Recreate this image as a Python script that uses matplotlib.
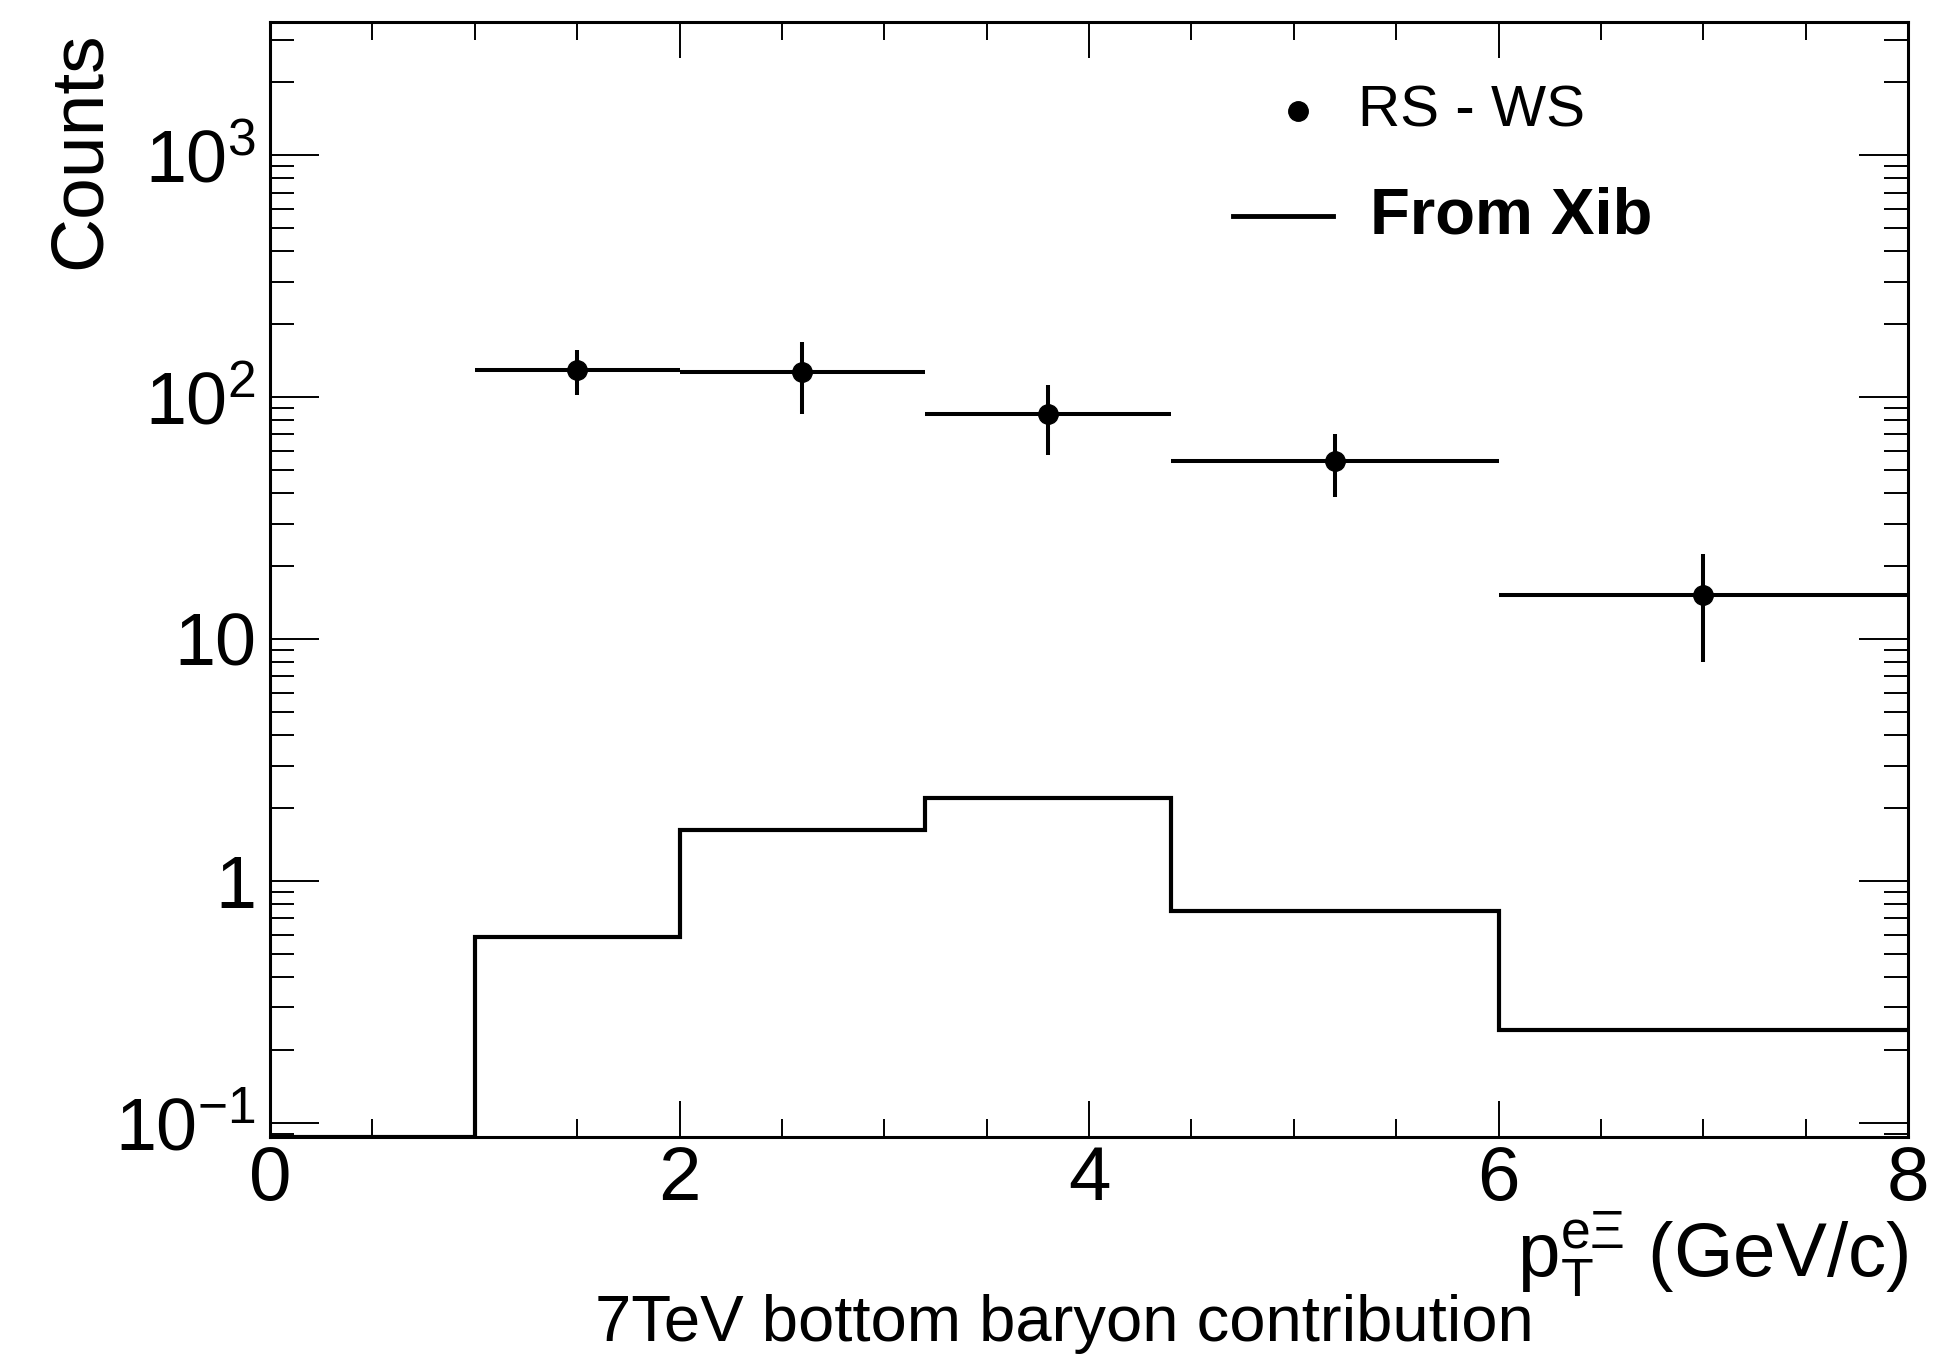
import numpy as np
import matplotlib
matplotlib.use("Agg")
import matplotlib.pyplot as plt
import matplotlib.ticker as mticker

# bin edges in pT (GeV/c)
bin_edges = [0.0, 1.0, 2.0, 3.2, 4.4, 6.0, 8.0]

# RS - WS counts (one per bin, starting from the 2nd bin)
rsws_counts = [129.0, 127.0, 85.0, 54.5, 15.2]
rsws_errors = [27.0, 42.0, 27.5, 15.8, 7.2]

# From Xib histogram contents
xib_counts = [0.0, 0.585, 1.63, 2.21, 0.752, 0.243]

x_range = (0.0, 8.0)
y_range = (0.0875, 3550.0)
ytick_vals = [0.1, 1, 10, 100, 1000]
ytick_labels = [r"$10^{-1}$", "1", "10", r"$10^{2}$", r"$10^{3}$"]

plt.rcParams.update({
    "font.family": ["Liberation Sans", "DejaVu Sans"],
    "mathtext.fontset": "custom",
    "mathtext.rm": "Liberation Sans",
    "mathtext.it": "Liberation Sans:italic",
    "mathtext.bf": "Liberation Sans:bold",
})

fig = plt.figure(figsize=(19.57, 13.60), dpi=100)
ax = fig.add_axes([0.1380, 0.1640, 0.8370, 0.8199])

edges = np.asarray(bin_edges)
centers = 0.5 * (edges[:-1] + edges[1:])
half_w = 0.5 * np.diff(edges)

# histogram (empty bins drawn on the frame bottom, like ROOT)
hist_vals = np.clip(np.asarray(xib_counts), y_range[0], None)
ax.stairs(hist_vals, edges, baseline=None, color="black", linewidth=3.0)

# data points, skipping the first (empty) bin
ax.errorbar(centers[1:], rsws_counts, xerr=half_w[1:], yerr=rsws_errors,
            fmt="o", color="black", markersize=14, elinewidth=2.9,
            capsize=0, zorder=3)

ax.set_yscale("log")
ax.set_xlim(*x_range)
ax.set_ylim(*y_range)

ax.xaxis.set_major_locator(mticker.MultipleLocator(2))
ax.xaxis.set_minor_locator(mticker.MultipleLocator(0.5))
ax.xaxis.set_major_formatter(mticker.FormatStrFormatter("%d"))

ax.yaxis.set_major_locator(mticker.FixedLocator(ytick_vals))
ax.yaxis.set_major_formatter(mticker.FixedFormatter(ytick_labels))
ax.yaxis.set_minor_locator(mticker.LogLocator(base=10, subs=np.arange(2, 10), numticks=50))
ax.yaxis.set_minor_formatter(mticker.NullFormatter())

ax.tick_params(which="both", direction="in", top=True, right=True, width=1.4)
ax.tick_params(axis="x", which="major", length=26, pad=6, labelsize=55)
ax.tick_params(axis="x", which="minor", length=13)
ax.tick_params(axis="y", which="major", length=35, pad=10, labelsize=53)
ax.tick_params(axis="y", which="minor", length=17)

for sp in ax.spines.values():
    sp.set_linewidth(2.2)

# axis titles, ROOT style
fig.text(80 / 1957, 1 - 31 / 1360, "Counts", rotation=90, ha="center",
         va="top", fontsize=54)
fig.text(1908 / 1957, 1 - 1277 / 1360, r"$\mathregular{p_{T}^{e\Xi}}$ (GeV/c)",
         ha="right", va="baseline", fontsize=55)

# legend
ax.plot([0.6273], [0.9199], "o", color="black", markersize=14,
        transform=ax.transAxes, clip_on=False)
ax.text(0.6642, 0.9199, "RS - WS", transform=ax.transAxes, ha="left",
        va="center", fontsize=42)
ax.plot([0.5879, 0.6490], [0.8257, 0.8257], color="black", linewidth=3.5,
        transform=ax.transAxes, clip_on=False)
ax.text(0.6716, 0.8257, "From Xib", transform=ax.transAxes, ha="left",
        va="center", fontsize=47, fontweight="bold")

# caption
fig.text(1064 / 1957, 1 - 1354 / 1360, "7TeV bottom baryon contribution",
         ha="center", va="bottom", fontsize=47)

fig.savefig("out.png", dpi=100)
